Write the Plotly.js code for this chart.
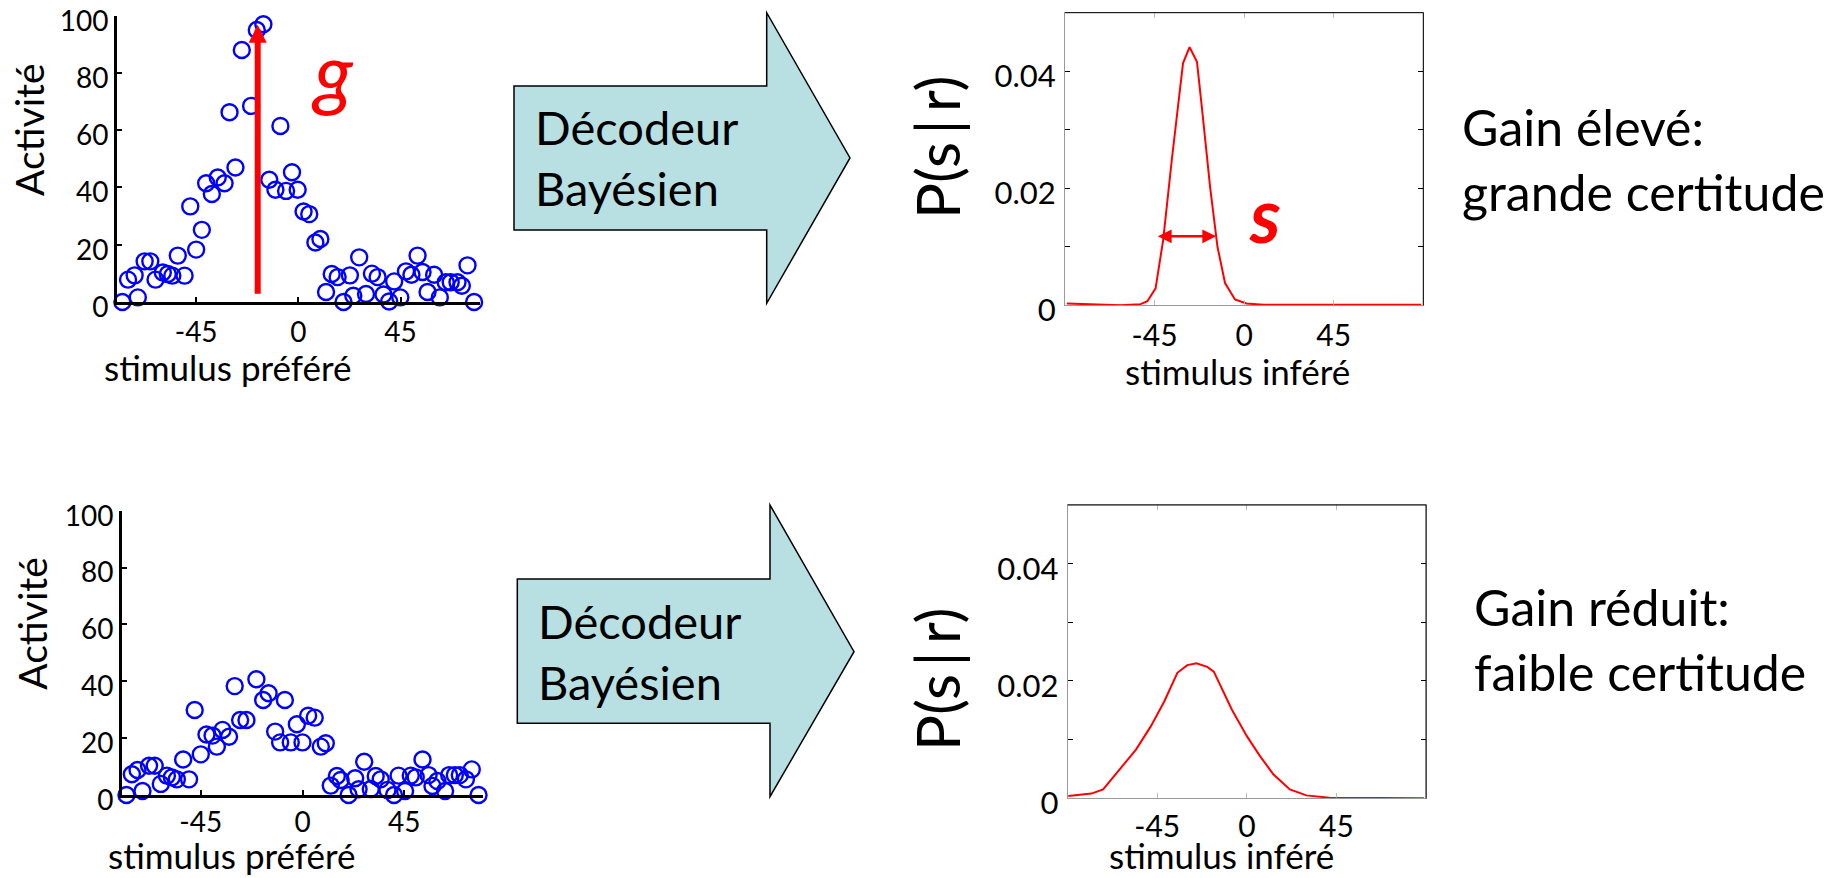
<!DOCTYPE html>
<html>
<head>
<meta charset="utf-8">
<script src="https://cdn.plot.ly/plotly-3.0.1.min.js"></script>
<style>
html, body { margin: 0; padding: 0; background: #ffffff; }
#chart { width: 1838px; height: 878px; }
</style>
</head>
<body>
<div id="chart"></div>
<script>
// ---------- DATA ----------
// High gain population response (top left)
const prefStimHigh = [-80.5,-77.5,-75,-72.1,-70.7,-67.7,-65.2,-62.9,-59.7,-57.5,-55.5,-53.1,-50.1,-47.6,-45,-42.5,-40.6,-38.1,-35.5,-32.5,-30.3,-27.7,-24.9,-20.8,-18.3,-15.4,-12.8,-10.1,-7.9,-5.4,-2.8,-0.3,2.3,4.8,7.5,9.7,12.2,14.7,17.3,19.9,22.7,24.2,26.8,29.8,32.4,34.9,37.5,40,42.2,44.9,47.4,49.8,52.5,54.7,56.9,59.8,62.3,64.9,67.1,70.1,72,74.5,77.4];
const activityHigh = [5.2,0,7.8,9.3,1.6,14.2,14.2,7.8,10.3,9.8,9.2,16.2,9.2,33.4,18.3,25.2,41.5,37.7,43.5,41.5,66.3,47,88,68.5,95,97,42.7,39.2,61.5,38.8,45.3,39.2,31.6,30.7,20.8,22,3.5,9.8,8.7,0,9.3,2.2,15.6,2.8,9.9,8.7,2.6,0.2,7.2,1.6,10.7,9.5,16.2,10.5,3.5,9.5,1.6,6.9,6.9,6.9,5.7,12.8,0];

// Low gain population response (bottom left)
const prefStimLow = [-81.1,-77.9,-75.5,-73,-70.8,-67.9,-65.4,-62.7,-60,-57.8,-55.6,-52.8,-50.2,-47.7,-45,-42.5,-39.8,-37.9,-35.4,-32.5,-30,-27.6,-24.8,-20.4,-17.4,-15,-12.1,-9.9,-7.8,-5.2,-2.5,0,2.5,5.4,8.1,10.3,12.5,15.2,16.9,20.4,23.3,24.8,27.3,30.2,32.4,34.6,37.6,40.5,42.5,45.4,47.9,50.1,53.1,55.8,57.5,59.7,63.1,64.9,67.4,69.6,72.3,74.9,77.9];
const activityLow = [4.9,0,7.3,8.8,1.4,10.3,10.3,3.9,6.8,6.2,5.5,12.5,5.5,29.9,14.3,21.3,20.9,17,22.9,20.5,38.3,26.4,26.4,40.7,33.4,35.8,22.3,18.5,33.4,18.5,24.9,18.5,27.9,27.2,17,18.2,3.3,6.7,5.3,0,5.9,2,11.7,2.1,6.7,5.5,1.8,0,6.8,1.4,6.8,6.2,12.5,7,3.2,4.9,1.4,7,7,7,5.5,9,0];

// Posterior, high gain (top right)
const inferredHigh = [-89,-75,-62,-52,-48.6,-44.5,-40.7,-36.2,-30.7,-27.4,-23.7,-21.2,-17.1,-13.4,-9.6,-4.6,1.2,9.5,89];
const posteriorHigh = [0.0003,0.0001,0,0.0002,0.0007,0.0029,0.0111,0.0253,0.0414,0.0441,0.0416,0.0337,0.0202,0.0100,0.0038,0.0010,0.0003,0.0001,0.0001];

// Posterior, low gain (bottom right)
const inferredLow = [-89.7,-78.1,-72.2,-63.1,-55.7,-48.2,-41.5,-34.9,-29.9,-25.3,-19.9,-16.6,-7.5,0,6.6,13.3,21.6,29.9,41.5,89];
const posteriorLow = [0.0004,0.0008,0.0015,0.0052,0.0083,0.0123,0.0165,0.0214,0.0227,0.0230,0.0224,0.0216,0.0151,0.0106,0.0072,0.0041,0.0015,0.0005,0.0001,0];

// Ticks
const stimTickVals = [-45, 0, 45];
const stimTickText = ['-45', '0', '45'];
const activityTickVals = [0, 20, 40, 60, 80, 100];
const posteriorTickVals = [0, 0.01, 0.02, 0.03, 0.04];
const posteriorTickText = ['0', '', '0.02', '', '0.04'];

// Annotation marks (gain arrow and width arrow), in data units
const gainArrow = { x: -17.9, yFrom: 2.4, yTo: 96.8 };
const widthArrow = { xFrom: -44.1, xTo: -14.1, y: 0.0118 };

// ---------- LAYOUT (pixels) ----------
const W = 1838, H = 878;
const px = v => v / W;
const py = v => 1 - v / H;
const FONT = 'Lato, "Open Sans", "DejaVu Sans", sans-serif';

const box = {
  s1: { l: 116.7, r: 480.0, t: 15.7, b: 302.0 },
  s2: { l: 121.7, r: 483.3, t: 510.7, b: 795.0 },
  s3: { l: 1065.0, r: 1423.3, t: 12.7, b: 305.3 },
  s4: { l: 1067.7, r: 1426.0, t: 505.0, b: 798.3 }
};

function xdom(b) { return [px(b.l), px(b.r)]; }
function ydom(b) { return [py(b.b), py(b.t)]; }

function leftX(b, anchor, standoff) {
  return {
    domain: xdom(b), anchor: anchor, range: [-80, 80],
    showline: true, linecolor: '#000', linewidth: 2.5,
    ticks: 'inside', ticklen: 5, tickwidth: 2, tickcolor: '#000',
    tickvals: stimTickVals, ticktext: stimTickText,
    tickfont: { family: FONT, size: 28, color: '#000' },
    ticklabelstandoff: standoff, ticklabeloverflow: 'allow',
    showgrid: false, zeroline: false, fixedrange: true
  };
}
function leftY(b, anchor) {
  return {
    domain: ydom(b), anchor: anchor, range: [0, 100],
    showline: true, linecolor: '#000', linewidth: 2.5,
    ticks: 'inside', ticklen: 5, tickwidth: 2, tickcolor: '#000',
    tickvals: activityTickVals,
    tickfont: { family: FONT, size: 28, color: '#000' },
    ticklabelstandoff: 0, ticklabelshift: 5, ticklabeloverflow: 'allow',
    showgrid: false, zeroline: false, fixedrange: true
  };
}
function rightX(b, anchor, standoff) {
  return {
    domain: xdom(b), anchor: anchor, range: [-90, 90],
    showline: true, linecolor: '#999', linewidth: 1, mirror: 'ticks',
    ticks: 'inside', ticklen: 5, tickwidth: 1, tickcolor: '#bbb',
    tickvals: stimTickVals, ticktext: stimTickText,
    tickfont: { family: FONT, size: 30, color: '#000' },
    ticklabelstandoff: standoff, ticklabeloverflow: 'allow',
    showgrid: false, zeroline: false, fixedrange: true
  };
}
function rightY(b, anchor) {
  return {
    domain: ydom(b), anchor: anchor, range: [0, 0.05],
    showline: true, linecolor: '#999', linewidth: 1, mirror: 'ticks',
    ticks: 'inside', ticklen: 5, tickwidth: 1, tickcolor: '#000',
    tickvals: posteriorTickVals, ticktext: posteriorTickText,
    tickfont: { family: FONT, size: 31, color: '#000' },
    ticklabelstandoff: 2, ticklabelshift: 5, ticklabeloverflow: 'allow',
    showgrid: false, zeroline: false, fixedrange: true
  };
}

// ---------- TRACES ----------
const markerStyle = { symbol: 'circle-open', size: 16, color: '#0000ff', line: { width: 2.4, color: '#0000ff' } };
const traces = [
  { type: 'scatter', mode: 'markers', x: prefStimHigh, y: activityHigh, xaxis: 'x', yaxis: 'y',
    marker: markerStyle, cliponaxis: false, hoverinfo: 'skip' },
  { type: 'scatter', mode: 'markers', x: prefStimLow, y: activityLow, xaxis: 'x2', yaxis: 'y2',
    marker: markerStyle, cliponaxis: false, hoverinfo: 'skip' },
  { type: 'scatter', mode: 'lines', x: inferredHigh, y: posteriorHigh, xaxis: 'x3', yaxis: 'y3',
    line: { color: '#ff0000', width: 2 }, cliponaxis: false, hoverinfo: 'skip' },
  { type: 'scatter', mode: 'lines', x: inferredLow, y: posteriorLow, xaxis: 'x4', yaxis: 'y4',
    line: { color: '#ff0000', width: 2 }, cliponaxis: false, hoverinfo: 'skip' }
];

// ---------- DECORATION ----------
function blockArrow(p) {
  const pts = [[p.l, p.rt], [p.hx, p.rt], [p.hx, p.ht], [p.tx, p.ty], [p.hx, p.hb], [p.hx, p.rb], [p.l, p.rb]];
  return 'M' + pts.map(q => px(q[0]).toFixed(5) + ',' + py(q[1]).toFixed(5)).join(' L') + ' Z';
}
const arrowTop = { l: 514, rt: 86, rb: 230, hx: 766.7, ht: 12.7, hb: 303.3, tx: 850, ty: 158 };
const arrowBot = { l: 517.3, rt: 579, rb: 723.3, hx: 770, ht: 505, hb: 796.7, tx: 854, ty: 651.7 };

const shapes = [
  { type: 'path', xref: 'paper', yref: 'paper', path: blockArrow(arrowTop),
    fillcolor: '#b8dfe2', line: { color: '#000', width: 1.5 }, layer: 'below' },
  { type: 'path', xref: 'paper', yref: 'paper', path: blockArrow(arrowBot),
    fillcolor: '#b8dfe2', line: { color: '#000', width: 1.5 }, layer: 'below' },
  { type: 'line', xref: 'x3 domain', yref: 'y3 domain', x0: 0, x1: 1, y0: 1, y1: 1, line: { color: '#000', width: 1 } },
  { type: 'line', xref: 'x3 domain', yref: 'y3 domain', x0: 1, x1: 1, y0: 0, y1: 1, line: { color: '#000', width: 1 } },
  { type: 'line', xref: 'x4 domain', yref: 'y4 domain', x0: 0, x1: 1, y0: 1, y1: 1, line: { color: '#000', width: 1 } },
  { type: 'line', xref: 'x4 domain', yref: 'y4 domain', x0: 1, x1: 1, y0: 0, y1: 1, line: { color: '#000', width: 1 } }
];

function label(text, x, y, size, opts) {
  return Object.assign({
    text: text, xref: 'paper', yref: 'paper', x: px(x), y: py(y),
    xanchor: 'center', yanchor: 'middle', showarrow: false,
    font: { family: FONT, size: size, color: '#000' }
  }, opts || {});
}

const annotations = [
  // axis titles
  label('Activité', 29, 130, 39, { textangle: -90 }),
  label('Activité', 31.7, 624, 39, { textangle: -90 }),
  label('stimulus préféré', 228, 367, 35),
  label('stimulus préféré', 231.7, 878, 35, { yanchor: 'bottom' }),
  label('stimulus inféré', 1237.5, 371, 35),
  label('stimulus inféré', 1221.7, 878, 35, { yanchor: 'bottom' }),
  label('P(s\u2009|\u2009r)', 937, 147, 60, { textangle: -90 }),
  label('P(s\u2009|\u2009r)', 937, 679, 60, { textangle: -90 }),
  // arrow texts
  label('Décodeur<br>Bayésien', 533, 157, 47, { xanchor: 'left', align: 'left' }),
  label('Décodeur<br>Bayésien', 536, 651, 47, { xanchor: 'left', align: 'left' }),
  // right texts
  label('Gain élevé:<br>grande certitude', 1460, 159, 50, { xanchor: 'left', align: 'left' }),
  label('Gain réduit:<br>faible certitude', 1472, 639, 50, { xanchor: 'left', align: 'left' }),
  // symbols
  label('<i>g</i>', 332, 70, 80, { font: { family: FONT, size: 80, color: '#ff0000' } }),
  label('<b><i>s</i></b>', 1265, 214, 76, { font: { family: FONT, size: 76, color: '#ff0000' } }),
  // gain arrow
  { xref: 'x', yref: 'y', axref: 'x', ayref: 'y', x: gainArrow.x, y: gainArrow.yTo,
    ax: gainArrow.x, ay: gainArrow.yFrom, text: '', showarrow: true,
    arrowhead: 2, arrowsize: 0.6, arrowwidth: 6, arrowcolor: '#ff0000' },
  // width arrow
  { xref: 'x3', yref: 'y3', axref: 'x3', ayref: 'y3', x: widthArrow.xTo, y: widthArrow.y,
    ax: widthArrow.xFrom, ay: widthArrow.y, text: '', showarrow: true, arrowside: 'end+start',
    arrowhead: 2, startarrowhead: 2, arrowsize: 1.1, startarrowsize: 1.1, arrowwidth: 2.5, arrowcolor: '#ff0000' }
];

const layout = {
  width: W, height: H,
  margin: { l: 0, r: 0, t: 0, b: 0, pad: 0 },
  paper_bgcolor: '#ffffff', plot_bgcolor: 'rgba(0,0,0,0)',
  showlegend: false, hovermode: false,
  font: { family: FONT, color: '#000' },
  xaxis: leftX(box.s1, 'y', 4), yaxis: leftY(box.s1, 'x'),
  xaxis2: leftX(box.s2, 'y2', 1), yaxis2: leftY(box.s2, 'x2'),
  xaxis3: rightX(box.s3, 'y3', 4), yaxis3: rightY(box.s3, 'x3'),
  xaxis4: rightX(box.s4, 'y4', 2), yaxis4: rightY(box.s4, 'x4'),
  shapes: shapes,
  annotations: annotations
};

Plotly.newPlot('chart', traces, layout, { staticPlot: true, displayModeBar: false });
</script>
</body>
</html>
